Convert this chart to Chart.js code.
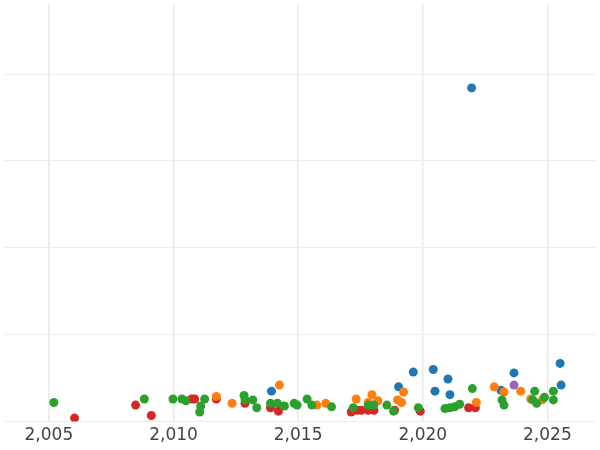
<!DOCTYPE html>
<html><head><script src="https://cdn.jsdelivr.net/npm/chart.js@4"></script>
<style>html,body{margin:0;padding:0;background:#fff}#w{width:600px;height:450px}</style></head>
<body><div id="w"><canvas id="c"></canvas></div>
<script>
const xTicks=[2005,2010,2015,2020,2025];
const yGrid=[0,1,2,3,4];
const greenX=[2005.2,2008.83,2009.98,2010.34,2010.5,2011.05,2011.09,2011.25,2012.83,2012.87,2013.18,2013.34,2013.89,2014.17,2014.45,2014.84,2014.96,2015.36,2015.55,2016.34,2017.21,2017.81,2018.04,2018.56,2018.83,2019.82,2020.89,2021.09,2021.28,2021.48,2021.99,2023.18,2023.26,2024.49,2024.41,2024.57,2024.88,2025.24,2025.24];
const greenY=[0.22,0.26,0.26,0.26,0.24,0.11,0.18,0.26,0.30,0.25,0.25,0.16,0.21,0.21,0.18,0.21,0.19,0.26,0.19,0.17,0.16,0.19,0.19,0.19,0.12,0.16,0.15,0.16,0.17,0.20,0.38,0.25,0.19,0.35,0.25,0.21,0.28,0.35,0.25];
const orangeX=[2011.72,2012.35,2014.25,2015.75,2016.11,2017.33,2017.81,2017.96,2018.2,2018.99,2019.15,2019.23,2022.15,2022.87,2023.26,2023.93,2024.33,2024.8];
const orangeY=[0.29,0.21,0.42,0.19,0.21,0.26,0.22,0.31,0.24,0.25,0.22,0.34,0.22,0.40,0.34,0.35,0.26,0.25];
const redX=[2006.03,2008.48,2009.11,2010.73,2010.85,2011.72,2012.87,2013.89,2014.21,2017.13,2017.37,2017.53,2017.81,2018.04,2018.87,2019.9,2021.84,2022.11];
const redY=[0.04,0.19,0.07,0.26,0.26,0.26,0.21,0.16,0.12,0.11,0.13,0.13,0.13,0.13,0.13,0.12,0.16,0.16];
const blueX=[2013.93,2019.03,2019.62,2020.42,2020.49,2021.01,2021.09,2021.96,2023.14,2023.66,2025.51,2025.55];
const blueY=[0.35,0.40,0.57,0.60,0.35,0.49,0.31,3.84,0.36,0.56,0.67,0.42];
const purpleX=[2023.66];
const purpleY=[0.42];
const pts=(xs,ys)=>xs.map((x,i)=>({x:x,y:ys[i]}));
const ds=(xs,ys,c)=>({data:pts(xs,ys),backgroundColor:c,borderColor:c,pointRadius:4.5,pointHoverRadius:4.5,borderWidth:0});
new Chart(document.getElementById('c'),{type:'scatter',
data:{datasets:[ds(greenX,greenY,'#2ca02c'),ds(orangeX,orangeY,'#ff7f0e'),ds(redX,redY,'#d62728'),ds(blueX,blueY,'#1f77b4'),ds(purpleX,purpleY,'#9467bd')]},
options:{responsive:true,maintainAspectRatio:false,animation:false,layout:{padding:0},
plugins:{legend:{display:false},tooltip:{enabled:false}},
scales:{
x:{type:'linear',min:2003.22,max:2026.93,afterBuildTicks:a=>{a.ticks=xTicks.map(v=>({value:v}))},
ticks:{color:'#444',font:{family:'DejaVu Sans',size:17},padding:4},
grid:{color:'#e8e8e8',lineWidth:1.5,drawTicks:false},border:{display:false}},
y:{min:0,max:4.8,afterBuildTicks:a=>{a.ticks=yGrid.map(v=>({value:v}))},
ticks:{display:false},grid:{color:'#ececec',drawTicks:false},border:{display:false}}
}}});
</script></body></html>
